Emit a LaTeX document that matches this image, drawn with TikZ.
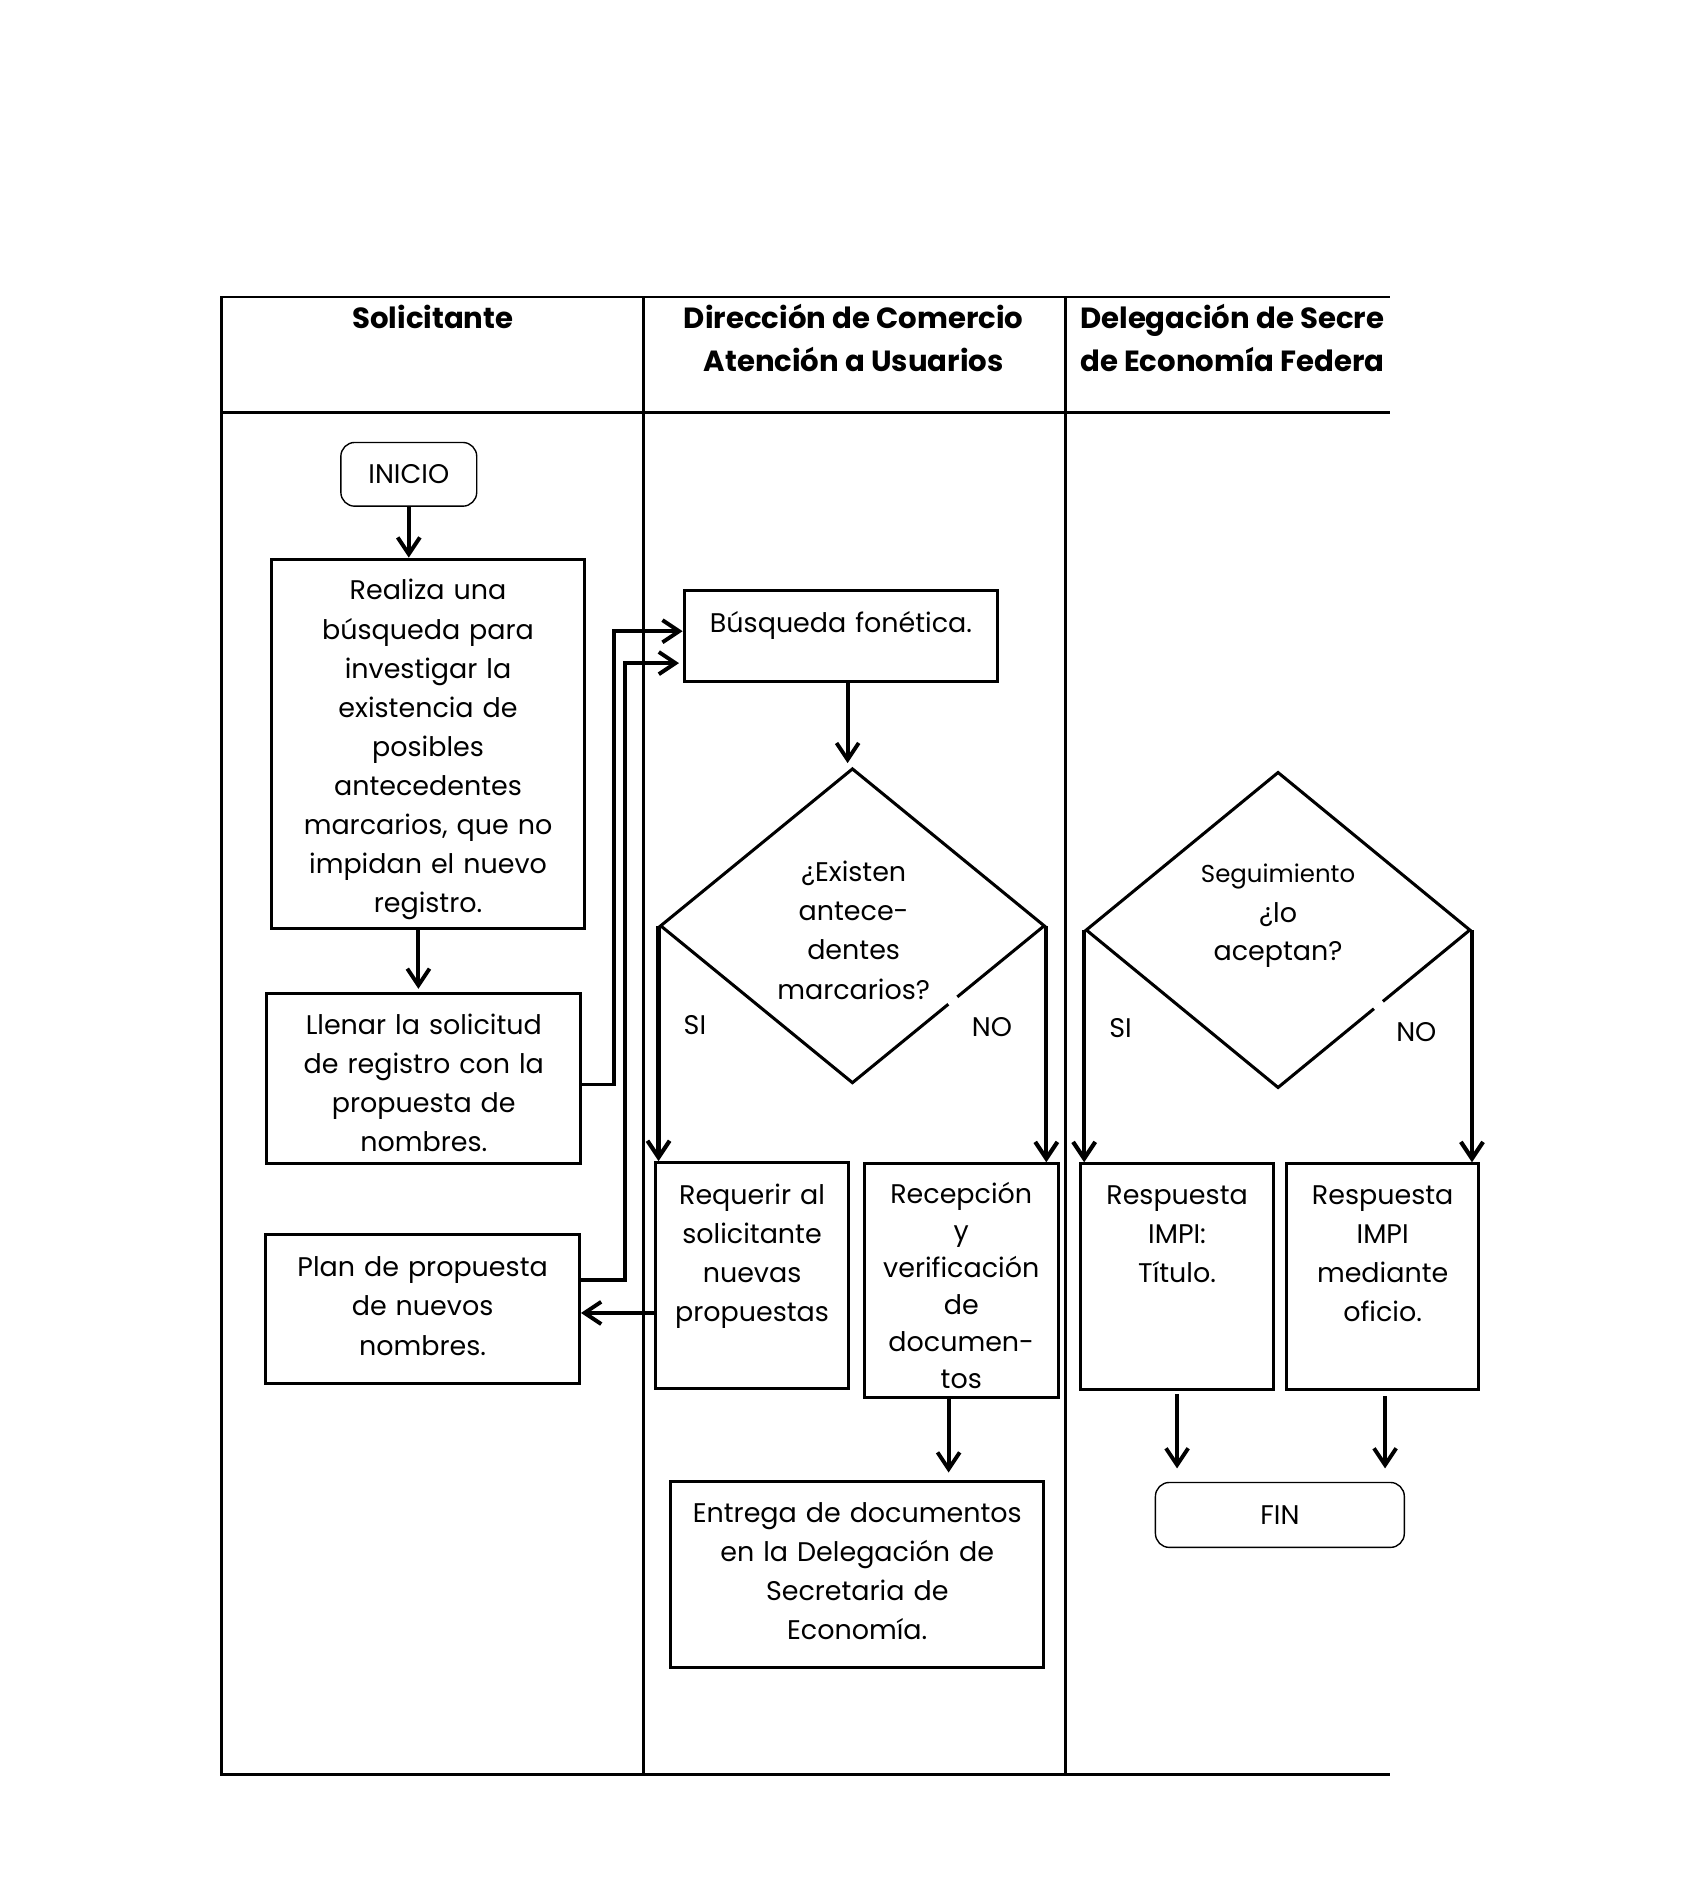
\documentclass[tikz,border=0pt]{standalone}
\usepackage{fontspec}
\setmainfont{Poppins}
\usetikzlibrary{arrows.meta,calc,shapes.geometric}
\newlength\unitl
\setlength\unitl{0.4328pt}
\begin{document}
\begin{tikzpicture}[x=0.4328pt, y=-0.4328pt,
  box/.style={draw, line width=1.1pt, inner sep=0pt},
  term/.style={draw, line width=0.5pt, rounded corners=5pt, inner sep=0pt,
    font=\fontsize{9.7}{12}\selectfont},
  txt/.style={font=\fontsize{9.7}{14.07}\selectfont, align=center, inner sep=0pt},
  hdr/.style={font=\bfseries\fontsize{10.5}{15.6}\selectfont, inner sep=0pt},
  lbl/.style={font=\fontsize{9.7}{12}\selectfont, inner sep=0pt, anchor=base},
  dia/.style={draw, diamond, line width=1.1pt, inner sep=0pt},
  arr/.style={line width=1.4pt, -{Straight Barb[length=6pt,width=8pt]}},
  lane/.style={line width=1pt}]
\useasboundingbox (0,0) rectangle (1414,1570.3);

% swimlane frame
\draw[lane] (1156,247) -- (184,247) -- (184,1476) -- (1156,1476);
\draw[lane] (184,343) -- (1156,343);
\draw[lane] (535,247) -- (535,1476);
\draw[lane] (886,247) -- (886,1476);

% headers
\node[hdr, anchor=base] (h1) at (360,273) {Solicitante};
\node[hdr, anchor=base] (h2a) at (710,273) {Dirección de Comercio};
\node[hdr, anchor=base] (h2b) at (710,309) {Atención a Usuarios};
\node[hdr, anchor=base west] (h3a) at (898,273) {Delegación de Secre};
\node[hdr, anchor=base west] (h3b) at (898,309) {de Economía Federa};

% terminals
\node[term, minimum width=113\unitl, minimum height=53\unitl] (inicio) at (340,394.5) {INICIO};
\node[term, minimum width=207\unitl, minimum height=54\unitl] (fin) at (1064.5,1260) {FIN};

% process boxes
\node[box, minimum width=260\unitl, minimum height=307\unitl] (b1) at (356,618.5) {};
\node[txt, text width=250\unitl, anchor=base] (t1) at (356,499)
  {Realiza una\\búsqueda para\\investigar la\\existencia de\\posibles\\antecedentes\\marcarios, que no\\impidan el nuevo\\registro.};

\node[box, minimum width=261\unitl, minimum height=142\unitl] (b2) at (352.5,897) {};
\node[txt, text width=250\unitl, anchor=base] (t2) at (352.5,860)
  {Llenar la solicitud\\de registro con la\\propuesta de\\nombres.};

\node[box, minimum width=261\unitl, minimum height=124\unitl] (b3) at (351.5,1089) {};
\node[txt, text width=250\unitl, anchor=base] (t3) at (351.5,1062)
  {Plan de propuesta\\de nuevos\\nombres.};

\node[box, minimum width=261\unitl, minimum height=76\unitl] (bus) at (699.5,529) {};
\node[txt, text width=250\unitl, anchor=base] (t4) at (699.5,526)
  {Búsqueda fonética.};

\node[box, minimum width=161\unitl, minimum height=188\unitl] (req) at (625.5,1061) {};
\node[txt, text width=155\unitl, anchor=base] (t5) at (625.5,1002)
  {Requerir al\\solicitante\\nuevas\\propuestas};

\node[box, minimum width=161\unitl, minimum height=194\unitl] (rec) at (799.5,1065) {};
\node[txt, text width=155\unitl, anchor=base, font=\fontsize{9.7}{13.33}\selectfont] (t6) at (799.5,1001)
  {Recepción\\y\\verificación\\de\\documen-\\tos};

\node[box, minimum width=310\unitl, minimum height=155\unitl] (ent) at (713,1309.5) {};
\node[txt, text width=300\unitl, anchor=base] (t7) at (713,1266)
  {Entrega de documentos\\en la Delegación de\\Secretaria de\\Economía.};

\node[box, minimum width=160\unitl, minimum height=188\unitl] (r1) at (979,1062) {};
\node[txt, text width=150\unitl, anchor=base] (t8) at (979,1002)
  {Respuesta\\IMPI:\\Título.};

\node[box, minimum width=160\unitl, minimum height=188\unitl] (r2) at (1150,1062) {};
\node[txt, text width=150\unitl, anchor=base] (t9) at (1150,1002)
  {Respuesta\\IMPI\\mediante\\oficio.};

% decisions
\node[dia, minimum width=320\unitl, minimum height=262\unitl] (d1) at (709,770) {};
\node[txt, text width=200\unitl, anchor=base, font=\fontsize{9.7}{14.15}\selectfont] (t10) at (710,733)
  {¿Existen\\antece-\\dentes\\marcarios?};
\draw[white, line width=2.6pt] ($(d1.east)!0.455!(d1.south)$) -- ($(d1.east)!0.50!(d1.south)$);

\node[dia, minimum width=320\unitl, minimum height=263\unitl] (d2) at (1063,773.5) {};
\node[txt, anchor=base, font=\fontsize{8.8}{12}\selectfont] (t11) at (1063,734) {Seguimiento};
\node[txt, text width=200\unitl, anchor=base, font=\fontsize{9.7}{13.85}\selectfont] (t12) at (1063,767)
  {¿lo\\aceptan?};
\draw[white, line width=2.6pt] ($(d2.east)!0.455!(d2.south)$) -- ($(d2.east)!0.50!(d2.south)$);

% branch labels
\node[lbl] (si1) at (578,860) {SI};
\node[lbl] (no1) at (825,862) {NO};
\node[lbl] (si2) at (932,863) {SI};
\node[lbl] (no2) at (1178,866) {NO};

% connectors
\draw[arr] (inicio.south) -- (inicio.south |- b1.north);
\coordinate (a1) at ($(b1.south)+(-8,0)$);
\draw[arr, shorten >=1pt] (a1) -- (a1 |- b2.north);

\coordinate (k1) at (511,525);
\draw[arr] ($(b2.east)+(0,5)$) -| (k1) -- (k1 -| bus.west);
\coordinate (k2) at (519.5,551.5);
\draw[arr] ($(b3.east)+(0,-24.5)$) -| (k2) -- ($(k2 -| bus.west)+(-3,0)$);

\coordinate (a2) at ($(bus.south)+(5.5,0)$);
\draw[arr, shorten >=1.3pt] (a2) -- (a2 |- d1.north);

\draw[arr, line width=1.5pt] (d1.west) -- (d1.west |- req.north);
\draw[arr, line width=1.5pt] (d1.east) -- (d1.east |- rec.north);

\coordinate (a3) at ($(req.west)+(0,31)$);
\draw[arr] (a3) -- (a3 -| b3.east);

\coordinate (a4) at ($(rec.south)+(-10.5,0)$);
\draw[arr, shorten >=2.6pt] (a4) -- (a4 |- ent.north);

\draw[arr, line width=1.5pt] (d2.west) -- (d2.west |- r1.north);
\draw[arr, line width=1.5pt] (d2.east) -- (d2.east |- r2.north);

\coordinate (a5) at ($(r1.south)+(0,2)$);
\draw[arr, shorten >=4.8pt] (a5) -- (a5 |- fin.north);
\coordinate (a6) at ($(r2.south)+(2,4)$);
\draw[arr, shorten >=4.8pt] (a6) -- (a6 |- fin.north);
\end{tikzpicture}
\end{document}
